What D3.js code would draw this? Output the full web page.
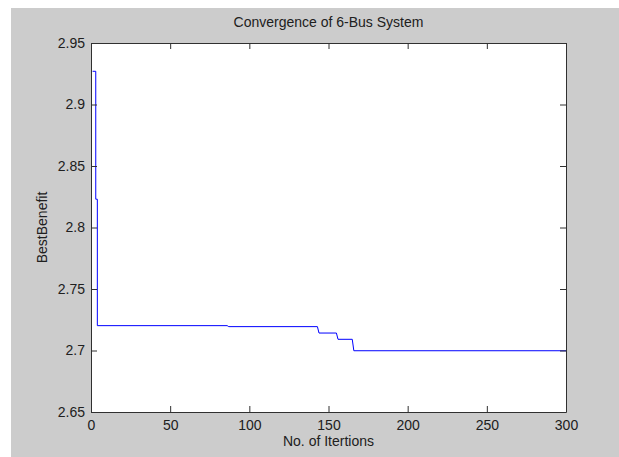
<!DOCTYPE html>
<html>
<head>
<meta charset="utf-8">
<script src="https://d3js.org/d3.v7.min.js"></script>
<style>
  html, body { margin: 0; padding: 0; background: #ffffff; }
  svg { display: block; font-family: "Liberation Sans", Arial, sans-serif; }
  .axis path, .axis line { stroke: #303030; }
  .axis text { fill: #202020; font-size: 14px; }
</style>
</head>
<body>
<svg id="chart" width="619" height="457"></svg>
<script>
// Breakpoints of the convergence curve
const iterations = [1, 3, 3, 4, 4, 86, 87, 143, 144, 155, 156, 165, 166, 300];
const bestBenefit = [2.927, 2.927, 2.823, 2.823, 2.7202, 2.7202, 2.7194, 2.7194,
                     2.7142, 2.7142, 2.7091, 2.7091, 2.6998, 2.6998];
const xTicks = [0, 50, 100, 150, 200, 250, 300];
const yTicks = [2.65, 2.7, 2.75, 2.8, 2.85, 2.9, 2.95];

const titleText = 'Convergence of 6-Bus System';
const xLabel = 'No. of Itertions';
const yLabel = 'BestBenefit';

const W = 619, H = 457;
const margin = { top: 43, right: 53, bottom: 45, left: 91 };
const plotW = W - margin.left - margin.right;
const plotH = H - margin.top - margin.bottom;

const svg = d3.select('#chart');

// figure background (MATLAB grey), small white strip at top/left
svg.append('rect').attr('x', 11).attr('y', 8).attr('width', W - 11).attr('height', H - 8)
  .attr('fill', '#cccccc');

const g = svg.append('g').attr('transform', `translate(${margin.left},${margin.top})`);
g.append('rect').attr('width', plotW).attr('height', plotH).attr('fill', '#ffffff');

const x = d3.scaleLinear().domain([0, 300]).range([0, plotW]);
const y = d3.scaleLinear().domain([2.65, 2.95]).range([plotH, 0]);

// line
const pts = iterations.map((it, i) => [it, bestBenefit[i]]);
g.append('path')
  .datum(pts)
  .attr('fill', 'none')
  .attr('stroke', '#0000ff')
  .attr('stroke-width', 1)
  .attr('d', d3.line().x(d => x(d[0])).y(d => y(d[1])));

// axes, ticks pointing inward like MATLAB
const fmtY = d => String(+d.toFixed(2));
g.append('g').attr('class', 'axis').attr('transform', `translate(0,${plotH})`)
  .call(d3.axisBottom(x).tickValues(xTicks).tickSizeInner(-6).tickSizeOuter(0).tickPadding(8));
g.append('g').attr('class', 'axis')
  .call(d3.axisLeft(y).tickValues(yTicks).tickFormat(fmtY).tickSizeInner(-6).tickSizeOuter(0).tickPadding(6));
g.append('g').attr('class', 'axis')
  .call(d3.axisTop(x).tickValues(xTicks).tickSizeInner(-6).tickSizeOuter(0).tickFormat(''));
g.append('g').attr('class', 'axis').attr('transform', `translate(${plotW},0)`)
  .call(d3.axisRight(y).tickValues(yTicks).tickSizeInner(-6).tickSizeOuter(0).tickFormat(''));

// texts
svg.append('text')
  .attr('x', margin.left + plotW / 2).attr('y', 27)
  .attr('text-anchor', 'middle').attr('font-size', 14).attr('fill', '#202020')
  .text(titleText);

svg.append('text')
  .attr('x', margin.left + plotW / 2).attr('y', 446)
  .attr('text-anchor', 'middle').attr('font-size', 14).attr('fill', '#202020')
  .text(xLabel);

svg.append('text')
  .attr('transform', `translate(47,${margin.top + plotH / 2}) rotate(-90)`)
  .attr('text-anchor', 'middle').attr('font-size', 14).attr('fill', '#202020')
  .text(yLabel);
</script>
</body>
</html>
